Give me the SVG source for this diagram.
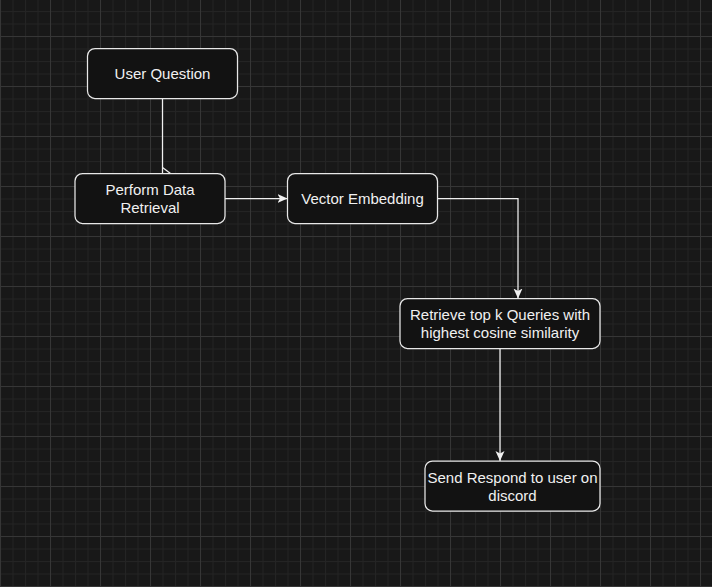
<svg xmlns="http://www.w3.org/2000/svg" width="712" height="587" viewBox="0 0 712 587">
<style>
.node rect{fill:#121212;stroke:#e8e8e8;stroke-width:1.25}
.node text{font-family:"Liberation Sans",Arial,sans-serif;font-size:15px;fill:#f0f0f0;text-anchor:middle}
.edge{fill:none;stroke:#f0f0f0;stroke-width:1.25}
</style>
<defs>
<pattern id="minor" patternUnits="userSpaceOnUse" x="0" y="11" width="12.5" height="12.5">
<rect x="0" y="0" width="12.5" height="1" fill="#242424"/>
<rect x="0" y="0" width="1" height="12.5" fill="#242424"/>
</pattern>
<pattern id="major" patternUnits="userSpaceOnUse" x="0" y="36" width="50" height="50">
<rect x="0" y="0" width="50" height="1" fill="#363636"/>
<rect x="0" y="0" width="1" height="50" fill="#363636"/>
</pattern>
<marker id="arr" viewBox="0 0 10 10" refX="10" refY="5" markerWidth="10" markerHeight="10" markerUnits="userSpaceOnUse" orient="auto">
<path d="M10,5 L0,0.5 L2.5,5 L0,9.5 Z" fill="#f0f0f0"/>
</marker>
</defs>
<rect width="712" height="587" fill="#181818"/>
<rect width="712" height="587" fill="url(#minor)"/>
<rect width="712" height="587" fill="url(#major)"/>
<g id="connectors">
<path class="edge" d="M162.5,98.5 V173.5"/>
<path class="edge" d="M162.5,167.5 L170.5,173.5"/>
<path class="edge" d="M225,198.5 H287.5" marker-end="url(#arr)"/>
<path class="edge" d="M437.5,198.5 H518 V298.5" marker-end="url(#arr)"/>
<path class="edge" d="M500,348.5 V461" marker-end="url(#arr)"/>
</g>
<g id="user-question" class="node">
<rect x="87.5" y="48.5" width="150" height="50" rx="7.5"/>
<text x="162.5" y="79">User Question</text>
</g>
<g id="perform-data-retrieval" class="node">
<rect x="75" y="173.5" width="150" height="50" rx="7.5"/>
<text x="150" y="195">Perform Data</text>
<text x="150" y="213">Retrieval</text>
</g>
<g id="vector-embedding" class="node">
<rect x="287.5" y="173.5" width="150" height="50" rx="7.5"/>
<text x="362.5" y="204">Vector Embedding</text>
</g>
<g id="retrieve-top-k" class="node">
<rect x="400" y="298.5" width="200" height="50" rx="7.5"/>
<text x="500" y="320">Retrieve top k Queries with</text>
<text x="500" y="338">highest cosine similarity</text>
</g>
<g id="send-respond" class="node">
<rect x="425" y="461" width="175" height="50" rx="7.5"/>
<text x="512.5" y="483">Send Respond to user on</text>
<text x="512.5" y="501">discord</text>
</g>
</svg>
